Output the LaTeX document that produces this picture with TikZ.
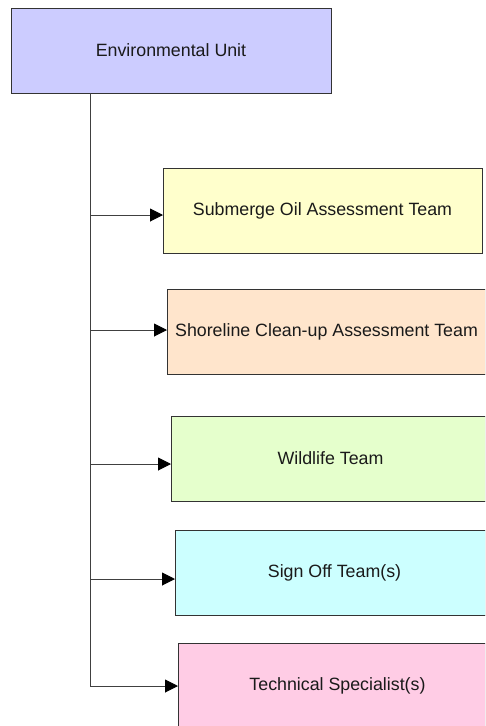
\documentclass[tikz,border=0pt]{standalone}
\usepackage{fontspec}
\setmainfont{Liberation Sans}
\usetikzlibrary{arrows.meta,shadows}

\definecolor{unitfill}{HTML}{CCCCFF}
\definecolor{oilfill}{HTML}{FFFFCC}
\definecolor{shorefill}{HTML}{FFE5CC}
\definecolor{wildfill}{HTML}{E5FFCC}
\definecolor{signfill}{HTML}{CCFFFF}
\definecolor{techfill}{HTML}{FFCCE5}
\definecolor{edgegray}{HTML}{333333}
\definecolor{linkgray}{HTML}{404040}
\definecolor{inktext}{HTML}{1A1A1A}

\tikzset{
  orgbox/.style={draw=edgegray, line width=1pt, rectangle, inner sep=0pt, outer sep=0pt,
    minimum width=319pt, minimum height=85pt, align=center, text=inktext,
    font=\fontsize{17.8pt}{20pt}\selectfont,
    drop shadow={shadow xshift=1.2pt, shadow yshift=-1.2pt, fill=black!45, opacity=1}},
  link/.style={draw=linkgray, line width=1pt},
  tolink/.style={link, -{Triangle[length=13pt, width=13pt, fill=black, color=black]}}
}

\begin{document}
\begin{tikzpicture}[x=1pt, y=-1pt]
  \useasboundingbox (0,0) rectangle (485,726);
  \clip (0,0) rectangle (485,726);

  % boxes
  \node[orgbox, fill=unitfill, minimum width=320pt] (unit) at (171,50.5) {Environmental Unit};
  \node[orgbox, fill=oilfill]   (oil)   at (322.5,210.5) {Submerge Oil Assessment Team};
  \node[orgbox, fill=shorefill] (shore) at (326.5,331.5) {Shoreline Clean-up Assessment Team};
  \node[orgbox, fill=wildfill]  (wild)  at (330.5,458.5) {Wildlife Team};
  \node[orgbox, fill=signfill]  (sign)  at (334.5,572.5) {Sign Off Team(s)};
  \node[orgbox, fill=techfill]  (tech)  at (337.5,685.5) {Technical Specialist(s)};

  % branch points on the trunk
  \coordinate (j1) at (90,215);
  \coordinate (j2) at (90,330);
  \coordinate (j3) at (90,464);
  \coordinate (j4) at (90,579);
  \coordinate (j5) at (90,686);

  % trunk
  \draw[link] (unit.south -| j1) -- (j5);

  % branches
  \draw[tolink] (j1) -- (j1 -| oil.west);
  \draw[tolink] (j2) -- (j2 -| shore.west);
  \draw[tolink] (j3) -- (j3 -| wild.west);
  \draw[tolink] (j4) -- (j4 -| sign.west);
  \draw[tolink] (j5) -- (j5 -| tech.west);
\end{tikzpicture}
\end{document}
